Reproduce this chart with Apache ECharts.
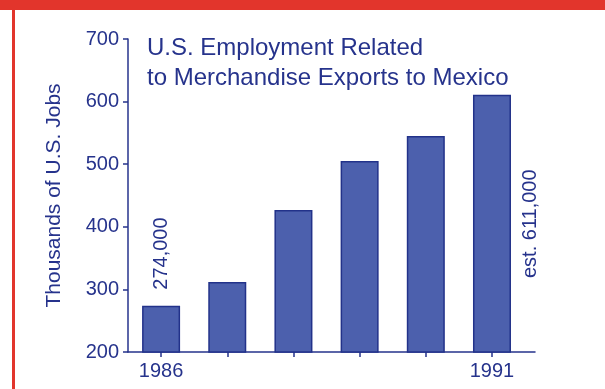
<!DOCTYPE html>
<html>
<head>
<meta charset="utf-8">
<title>U.S. Employment Related to Merchandise Exports to Mexico</title>
<script src="https://cdn.jsdelivr.net/npm/echarts@6/dist/echarts.min.js"></script>
<style>
  html, body { margin: 0; padding: 0; background: #ffffff; }
  #wrap { position: relative; width: 605px; height: 389px; overflow: hidden; background: #ffffff; }
  #band { position: absolute; left: 0; top: 0; width: 605px; height: 10px; background: #e2352c; }
  #rule { position: absolute; left: 12px; top: 0; width: 3px; height: 389px; background: #e2352c; }
  #chart { position: absolute; left: 0; top: 0; width: 605px; height: 389px; }
</style>
</head>
<body>
<div id="wrap">
  <div id="chart"></div>
  <div id="band"></div>
  <div id="rule"></div>
</div>
<script>
// Years on the horizontal axis
const years = ['1986', '1987', '1988', '1989', '1990', '1991'];
// Jobs supported, thousands
const jobs = [274, 312, 427, 505, 545, 611];
// Years that get a tick label
const labeledYears = ['1986', '1991'];
// Vertical axis ticks, thousands
const yTicks = [200, 300, 400, 500, 600, 700];
// Annotated bars: index -> prefix for the value note
const notes = { 0: '', 5: 'est. ' };

const ink = '#26338c';
const font = '"Liberation Sans", Arial, Helvetica, sans-serif';

function jobsText(v) {
  return (v * 1000).toLocaleString('en-US');
}

const seriesData = jobs.map((v, i) => {
  const item = { value: [i, v] };
  if (i in notes) {
    const text = notes[i] + jobsText(v);
    if (i === 0) {
      item.label = { show: true, position: 'top', rotate: 90, align: 'left',
        verticalAlign: 'middle', distance: 16, formatter: text };
    } else {
      item.label = { show: true, position: 'right', rotate: 90, align: 'center',
        verticalAlign: 'top', distance: 10, formatter: text };
    }
  }
  return item;
});

const chart = echarts.init(document.getElementById('chart'), null, { renderer: 'canvas' });
chart.setOption({
  animation: false,
  backgroundColor: 'transparent',
  textStyle: { fontFamily: font, color: ink },
  title: {
    text: 'U.S. Employment Related\nto Merchandise Exports to Mexico',
    left: 142,
    top: 28,
    textStyle: { fontFamily: font, fontSize: 24, fontWeight: 'normal', color: ink, lineHeight: 30 }
  },
  grid: { left: 128, top: 39, right: 70, bottom: 37 },
  xAxis: {
    type: 'value',
    min: -0.5,
    max: 5.65,
    splitLine: { show: false },
    axisLine: { show: true, onZero: false, lineStyle: { color: ink, width: 1.5 } },
    axisTick: {
      show: true, length: 5, inside: false,
      customValues: years.map((y, i) => i),
      lineStyle: { color: ink, width: 1.5 }
    },
    axisLabel: {
      customValues: labeledYears.map(y => years.indexOf(y)),
      formatter: v => years[Math.round(v)],
      margin: 9,
      fontSize: 20,
      color: ink,
      fontFamily: font
    }
  },
  yAxis: {
    type: 'value',
    min: yTicks[0],
    max: yTicks[yTicks.length - 1],
    interval: 100,
    name: 'Thousands of U.S. Jobs',
    nameLocation: 'middle',
    nameGap: 63,
    nameTextStyle: { fontSize: 21, color: ink, fontFamily: font },
    splitLine: { show: false },
    axisLine: { show: true, onZero: false, lineStyle: { color: ink, width: 1.5 } },
    axisTick: { show: true, length: 5, inside: false, lineStyle: { color: ink, width: 1.5 } },
    axisLabel: { margin: 9, fontSize: 20, color: ink, fontFamily: font }
  },
  series: [{
    type: 'bar',
    barWidth: 38,
    data: seriesData,
    itemStyle: { color: '#4c60ad', borderColor: '#22328a', borderWidth: 1.5 },
    label: { show: false, fontSize: 20, color: ink, fontFamily: font }
  }]
});
</script>
</body>
</html>
